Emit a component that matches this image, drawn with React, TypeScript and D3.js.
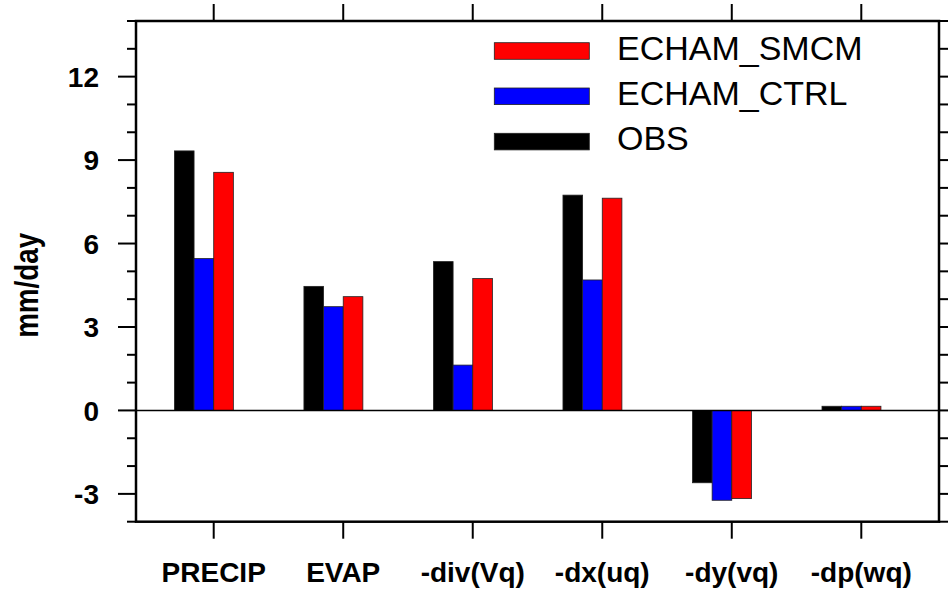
import React from "react";
import { scaleLinear, range } from "d3";

const categories = ["PRECIP", "EVAP", "-div(Vq)", "-dx(uq)", "-dy(vq)", "-dp(wq)"];
const obsValues = [9.33, 4.46, 5.35, 7.74, -2.6, 0.15];
const ctrlValues = [5.46, 3.73, 1.63, 4.69, -3.23, 0.15];
const smcmValues = [8.56, 4.09, 4.74, 7.63, -3.17, 0.15];
const majorTicks = [-3, 0, 3, 6, 9, 12];
const legendNames = ["ECHAM_SMCM", "ECHAM_CTRL", "OBS"];

const width = 948;
const height = 596;
const left = 136;
const right = 939;
const top = 21;
const bottom = 521.7;
const barW = 0.1517;
const font = "'Liberation Sans', Arial, Helvetica, sans-serif";

const series = [
  { values: obsValues, color: "#000000", offset: -2 },
  { values: ctrlValues, color: "#0000ff", offset: -1 },
  { values: smcmValues, color: "#ff0000", offset: 0 },
];
const legendColors = ["#ff0000", "#0000ff", "#000000"];

const App = () => {
  const x = scaleLinear().domain([0.4, 6.6]).range([left, right]);
  const y = scaleLinear().domain([-4, 14]).range([bottom, top]);
  const minorTicks = range(-4, 15, 1);

  return (
    <svg
      width={width}
      height={height}
      style={{ position: "absolute", left: 0, top: 0, background: "#fff" }}
    >
      {/* bars */}
      {series.map((s, si) =>
        s.values.map((v, i) => {
          const x0 = x(i + 1 + s.offset * barW);
          const x1 = x(i + 1 + (s.offset + 1) * barW);
          const y0 = y(Math.max(0, v));
          const y1 = y(Math.min(0, v));
          return (
            <rect
              key={`${si}-${i}`}
              x={x0}
              y={y0}
              width={x1 - x0}
              height={y1 - y0}
              fill={s.color}
              stroke="#222"
              strokeWidth={0.8}
            />
          );
        })
      )}

      {/* zero line */}
      <line x1={left} x2={right} y1={y(0)} y2={y(0)} stroke="#000" strokeWidth={1.5} />

      {/* y ticks, both sides, outward */}
      {minorTicks.map((t) => {
        const major = majorTicks.includes(t);
        const len = major ? 18 : 9;
        return (
          <g key={`yt${t}`} stroke="#000" strokeWidth={2}>
            <line x1={left - len} x2={left} y1={y(t)} y2={y(t)} />
            <line x1={right} x2={right + len} y1={y(t)} y2={y(t)} />
          </g>
        );
      })}
      {majorTicks.map((t) => (
        <text
          key={`yl${t}`}
          x={99}
          y={y(t)}
          dy="0.36em"
          textAnchor="end"
          fontFamily={font}
          fontWeight="bold"
          fontSize={28}
        >
          {t}
        </text>
      ))}

      {/* x ticks top and bottom, outward */}
      {categories.map((c, i) => (
        <g key={`xt${i}`}>
          <line x1={x(i + 1)} x2={x(i + 1)} y1={top} y2={top - 17} stroke="#000" strokeWidth={2} />
          <line x1={x(i + 1)} x2={x(i + 1)} y1={bottom} y2={bottom + 17} stroke="#000" strokeWidth={2} />
          <text
            x={x(i + 1)}
            y={582}
            textAnchor="middle"
            fontFamily={font}
            fontWeight="bold"
            fontSize={28}
          >
            {c}
          </text>
        </g>
      ))}

      {/* frame */}
      <rect
        x={left}
        y={top}
        width={right - left}
        height={bottom - top}
        fill="none"
        stroke="#000"
        strokeWidth={2.5}
      />

      {/* y axis title */}
      <text
        transform={`translate(38,${(top + bottom) / 2 + 14}) rotate(-90)`}
        textAnchor="middle"
        fontFamily={font}
        fontWeight="bold"
        fontSize={33}
        textLength={105}
        lengthAdjust="spacingAndGlyphs"
      >
        mm/day
      </text>

      {/* legend */}
      {legendNames.map((name, i) => (
        <g key={name} transform={`translate(0,${i * 45.3})`}>
          <rect
            x={494.3}
            y={42.7}
            width={95}
            height={16.6}
            fill={legendColors[i]}
            stroke="#222"
            strokeWidth={0.8}
          />
          <text x={617} y={59.5} fontFamily={font} fontSize={34}>
            {name}
          </text>
        </g>
      ))}
    </svg>
  );
};

export default App;
